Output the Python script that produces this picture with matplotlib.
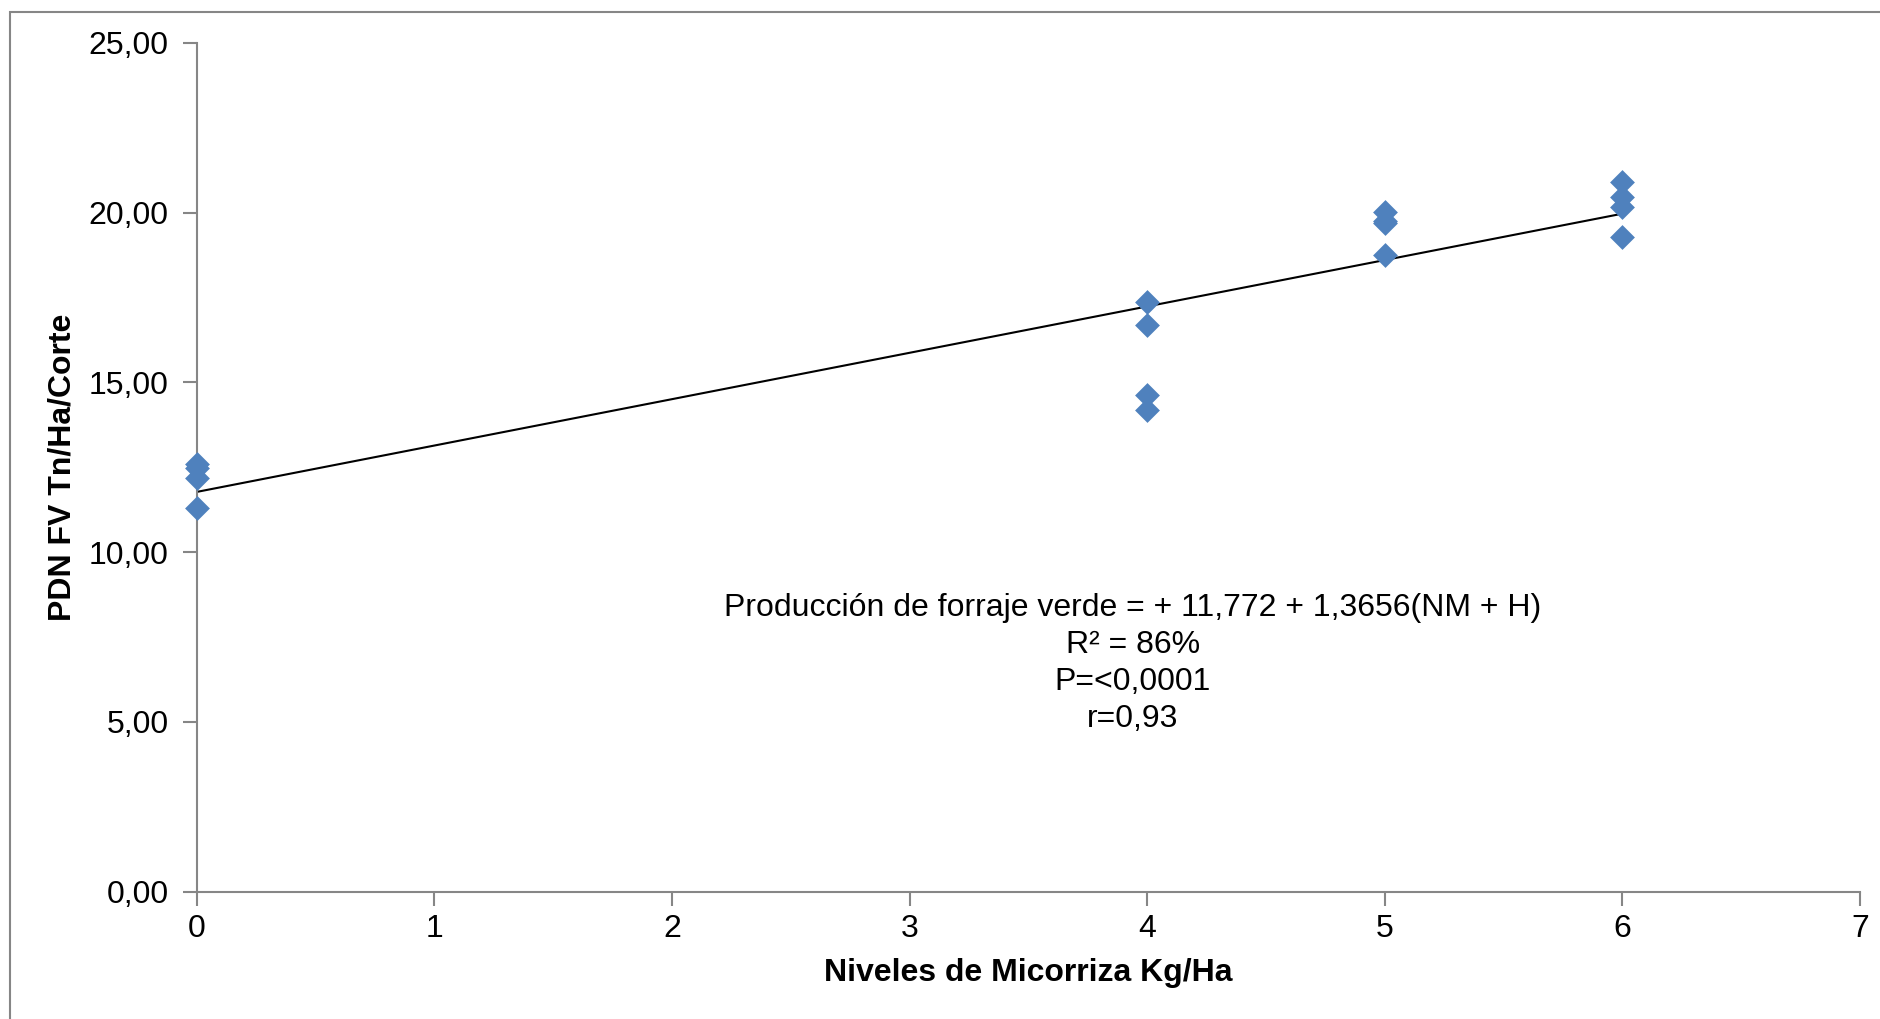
import matplotlib
matplotlib.use("Agg")
import matplotlib.pyplot as plt
from matplotlib import font_manager
from matplotlib.patches import Rectangle

# datos
niveles = [0, 0, 0, 0, 4, 4, 4, 4, 5, 5, 5, 5, 6, 6, 6, 6]
produccion = [12.6, 12.47, 12.17, 11.31,
              17.37, 16.69, 14.63, 14.18,
              20.02, 19.75, 19.68, 18.75,
              20.91, 20.47, 20.17, 19.27]
intercepto = 11.772
pendiente = 1.3656
x_ticks = [0, 1, 2, 3, 4, 5, 6, 7]
y_ticks = [0, 5, 10, 15, 20, 25]
texto_ecuacion = ["Producción de forraje verde = + 11,772 + 1,3656(NM + H)",
                  "R² = 86%", "P=<0,0001", "r=0,93"]

nombres = [f.name for f in font_manager.fontManager.ttflist]
fuente_angosta = "Liberation Sans Narrow" if "Liberation Sans Narrow" in nombres else "Liberation Sans"
plt.rcParams["font.family"] = ["Liberation Sans", "DejaVu Sans"]

gris = "#868686"
fig = plt.figure(figsize=(18.8, 10.19), dpi=100)
ax = fig.add_axes([0.1046, 0.1249, 0.8848, 0.8332])

# borde del area del grafico
fig.patches.append(Rectangle((10 / 1880, -0.1), 1.2, 1 - 11.7 / 1019 + 0.1,
                             transform=fig.transFigure, fill=False,
                             edgecolor=gris, linewidth=1.5))

ax.scatter(niveles, produccion, marker="D", s=160, color="#4F81BD", zorder=3,
           linewidths=0, clip_on=False)
x_linea = [min(niveles), max(niveles)]
y_linea = [intercepto + pendiente * v for v in x_linea]
ax.plot(x_linea, y_linea, color="black", linewidth=1.5, zorder=2)

ax.set_xlim(0, 7)
ax.set_ylim(0, 25)
ax.set_xticks(x_ticks)
ax.set_yticks(y_ticks)
ax.set_yticklabels([f"{v:.2f}".replace(".", ",") for v in y_ticks])
ax.tick_params(axis="both", labelsize=23, color=gris, length=10, width=1.5, pad=6)
ax.tick_params(axis="y", pad=10)

for lado in ["top", "right"]:
    ax.spines[lado].set_visible(False)
for lado in ["left", "bottom"]:
    ax.spines[lado].set_color(gris)
    ax.spines[lado].set_linewidth(1.5)

ax.set_xlabel("Niveles de Micorriza Kg/Ha", fontsize=23, fontweight="bold", labelpad=10)
ax.set_ylabel("PDN FV Tn/Ha/Corte", fontsize=23, fontweight="bold", labelpad=8)

ax.text(1133 / 1880, 1 - 593 / 1019, "\n".join(texto_ecuacion), transform=fig.transFigure,
        ha="center", va="top", fontsize=23, family=fuente_angosta, linespacing=1.3)

fig.savefig("out.png", dpi=100)
